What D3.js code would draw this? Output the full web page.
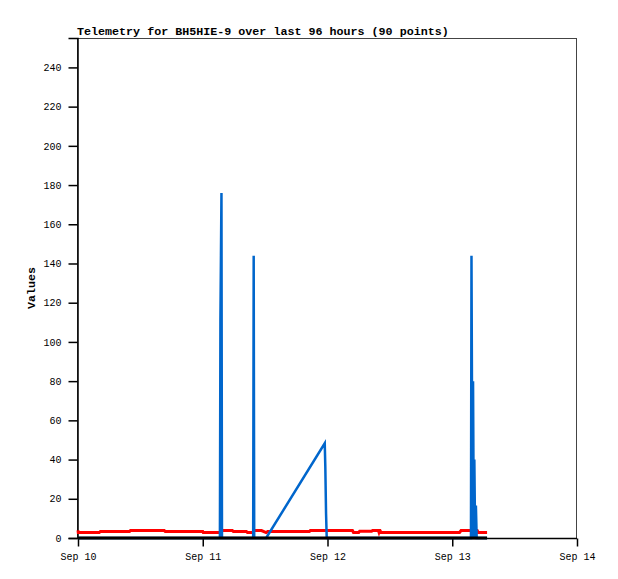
<!DOCTYPE html>
<html>
<head>
<meta charset="utf-8">
<script src="https://cdn.jsdelivr.net/npm/d3@7"></script>
<style>
	body { margin: 0; background: #fff; }
	svg { display: block; }
	text { font-family: "Liberation Mono", "DejaVu Sans Mono", monospace; fill: #000; }
</style>
</head>
<body>
<svg id="chart" width="618" height="579"></svg>
<script>
// start of the 96 hour window, times below are hours after this
var start = Date.UTC(2023, 8, 10, 0, 0);
var end = Date.UTC(2023, 8, 14, 0, 0);

var title = "Telemetry for BH5HIE-9 over last 96 hours (90 points)";
var yLabel = "Values";
var yTicks = [0, 20, 40, 60, 80, 100, 120, 140, 160, 180, 200, 220, 240];

// red channel
var redHours = [0, 0.05, 4.1, 4.3, 9.9, 10.1, 16.6, 16.8, 24.0, 24.1, 27.3, 27.6, 29.7, 29.9,
	32.4, 32.6, 33.7, 33.8, 35.3, 36.2, 36.5, 44.5, 44.7, 52.8, 53.0, 54.0, 54.2, 56.5, 56.7,
	57.8, 57.9, 58.0, 58.1, 58.3, 73.4, 73.7, 76.8, 77.0, 78.7];
var redValues = [3.9, 2.8, 2.8, 3.3, 3.3, 3.8, 3.8, 3.3, 3.3, 2.8, 2.8, 3.8, 3.8, 3.3,
	3.3, 2.8, 2.8, 3.8, 3.8, 2.8, 3.3, 3.3, 3.8, 3.8, 2.8, 2.8, 3.5, 3.5, 3.8,
	3.8, 3.0, 3.8, 3.8, 2.8, 2.8, 3.8, 3.8, 2.8, 2.8];

// blue channel
var blueHours = [0, 27.3, 27.4, 27.6, 27.7, 33.7, 33.8, 33.9, 36.2, 47.47, 47.58, 47.72, 47.85,
	75.6, 75.7, 75.9, 76.0, 76.15, 76.25, 76.4, 76.55, 76.7, 78.7];
var blueValues = [0, 0, 112, 176, 0, 0, 144, 0, 0, 48.3, 36.4, 12.6, 0,
	0, 144, 0, 80, 0, 40, 0, 16.5, 0, 0];

// black channel
var blackHours = [0, 78.7];
var blackValues = [0, 0];

var margin = { top: 38, right: 41, bottom: 41, left: 78 };
var width = 618 - margin.left - margin.right;
var height = 579 - margin.top - margin.bottom;

var svg = d3.select("#chart");

var x = d3.scaleUtc()
	.domain([start, end])
	.range([margin.left, margin.left + width]);
var y = d3.scaleLinear()
	.domain([0, 255])
	.range([margin.top + height, margin.top]);

function toPoints(hours, values) {
	return hours.map(function(h, i) {
		return { t: start + h * 3600000, v: values[i] };
	});
}

var line = d3.line()
	.x(function(d) { return x(d.t); })
	.y(function(d) { return y(d.v); });

// frame
svg.append("rect")
	.attr("x", margin.left - 0.5)
	.attr("y", margin.top + 0.5)
	.attr("width", width)
	.attr("height", height)
	.attr("fill", "none")
	.attr("stroke", "#444")
	.attr("stroke-width", 1);

// axes
var yAxis = svg.append("g")
	.attr("transform", "translate(" + (margin.left - 0.5) + ",0)")
	.call(d3.axisLeft(y).tickValues(yTicks).tickSize(9).tickPadding(7));
var xAxis = svg.append("g")
	.attr("transform", "translate(0," + (margin.top + height + 0.5) + ")")
	.call(d3.axisBottom(x).ticks(d3.utcDay.every(1)).tickFormat(d3.utcFormat("%b %d")).tickSize(8).tickPadding(6));

[yAxis, xAxis].forEach(function(axis) {
	axis.selectAll("text").style("font-size", "10px").style("font-family", "Liberation Mono, monospace");
	axis.select(".domain").attr("stroke", "#000").attr("stroke-width", 1.5);
	axis.selectAll(".tick line").attr("stroke", "#000").attr("stroke-width", 1.5);
});
xAxis.select(".domain").attr("d", "M" + margin.left + ",0H" + (margin.left + width));

// series
svg.append("path")
	.datum(toPoints(redHours, redValues))
	.attr("d", line)
	.attr("fill", "none")
	.attr("stroke", "#ff0000")
	.attr("stroke-width", 3);

svg.append("path")
	.datum(toPoints(blueHours, blueValues))
	.attr("d", line)
	.attr("fill", "none")
	.attr("stroke", "#0066cc")
	.attr("stroke-width", 2.5);

svg.append("path")
	.datum(toPoints(blackHours, blackValues))
	.attr("d", line)
	.attr("fill", "none")
	.attr("stroke", "#000")
	.attr("stroke-width", 3);

// texts
svg.append("text")
	.attr("x", margin.left - 1)
	.attr("y", 35)
	.style("font-size", "11.7px")
	.style("font-weight", "bold")
	.text(title);

svg.append("text")
	.attr("transform", "translate(35," + (margin.top + height / 2) + ") rotate(-90)")
	.attr("text-anchor", "middle")
	.style("font-size", "11.7px")
	.style("font-weight", "bold")
	.text(yLabel);
</script>
</body>
</html>
